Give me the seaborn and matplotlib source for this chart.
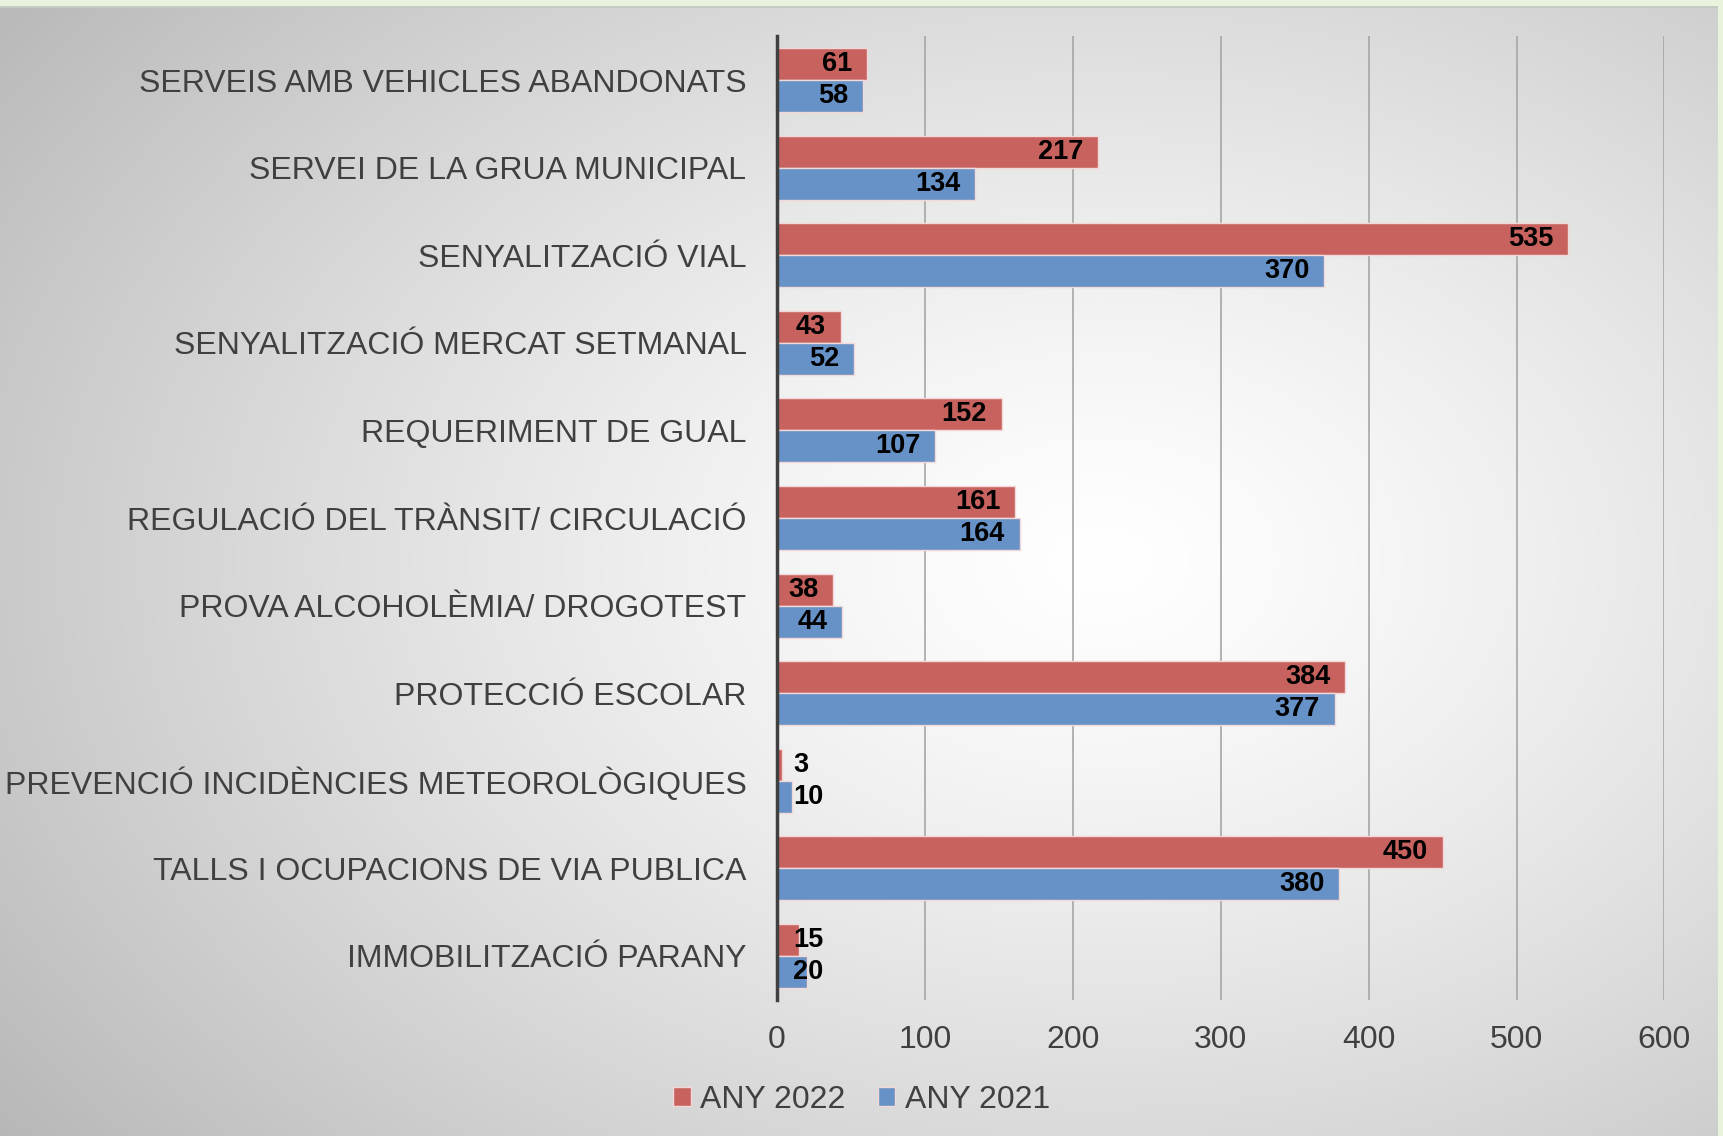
import numpy as np
import pandas as pd
import seaborn as sns
import matplotlib
import matplotlib.pyplot as plt
matplotlib.use('Agg')

sns.set_style('white')
plt.rcParams['font.family'] = ['Liberation Sans', 'DejaVu Sans']

# dades del gràfic (de dalt a baix)
categories = [
    'SERVEIS AMB VEHICLES ABANDONATS',
    'SERVEI DE LA GRUA MUNICIPAL',
    'SENYALITZACIÓ VIAL',
    'SENYALITZACIÓ MERCAT SETMANAL',
    'REQUERIMENT DE GUAL',
    'REGULACIÓ DEL TRÀNSIT/ CIRCULACIÓ',
    'PROVA ALCOHOLÈMIA/ DROGOTEST',
    'PROTECCIÓ ESCOLAR',
    'PREVENCIÓ INCIDÈNCIES METEOROLÒGIQUES',
    'TALLS I OCUPACIONS DE VIA PUBLICA',
    'IMMOBILITZACIÓ PARANY',
]
any_2022 = [61, 217, 535, 43, 152, 161, 38, 384, 3, 450, 15]
any_2021 = [58, 134, 370, 52, 107, 164, 44, 377, 10, 380, 20]
series = ['ANY 2022', 'ANY 2021']
colors = ['#C8625F', '#6692C7']
x_ticks = [0, 100, 200, 300, 400, 500, 600]

df = pd.DataFrame({
    'categoria': categories * 2,
    'valor': any_2022 + any_2021,
    'any': [series[0]] * len(categories) + [series[1]] * len(categories),
})

fig = plt.figure(figsize=(17.23, 11.36), dpi=100)

# fons amb degradat radial
bg = fig.add_axes([0, 0, 1, 1], zorder=-10)
yy, xx = np.mgrid[0:1136, 0:1723]
dist = np.sqrt(((xx - 1100) / 1300) ** 2 + ((yy - 560) / 900) ** 2)
shade = 1 - 0.26 * np.clip(dist, 0, 1.2) ** 1.3
img = np.dstack([shade, shade, shade])
img[0:6, :, :] = [0.91, 0.95, 0.87]
img[6:8, :, :] = [0.78, 0.80, 0.77]
img[:, 1718:, :] = [0.91, 0.95, 0.87]
bg.imshow(img, aspect='auto', extent=[0, 1, 0, 1])
bg.axis('off')

ax = fig.add_axes([0.451, 0.120, 0.515, 0.848])
ax.patch.set_alpha(0)

sns.barplot(data=df, y='categoria', x='valor', hue='any', orient='h',
            palette=colors, saturation=1, width=0.73, gap=0,
            edgecolor='#F2D8D6', linewidth=1, ax=ax, zorder=3)

# etiquetes de valor
for cont, vals in zip(ax.containers, [any_2022, any_2021]):
    for bar, v in zip(cont, vals):
        yc = bar.get_y() + bar.get_height() / 2
        if v > 30:
            ax.text(v - 10, yc, str(v), ha='right', va='center',
                    fontsize=19.5, fontweight='bold', color='black', zorder=5)
        else:
            ax.text(11, yc, str(v), ha='left', va='center',
                    fontsize=19.5, fontweight='bold', color='black', zorder=5)

ax.set_xlim(0, 600)
ax.set_xticks(x_ticks)
ax.set_xticklabels([str(t) for t in x_ticks])
ax.set_xlabel('')
ax.set_ylabel('')
ax.tick_params(axis='x', labelsize=23, colors='#404040', length=0, pad=18)
ax.tick_params(axis='y', labelsize=23, colors='#404040', length=0, pad=22)
ax.grid(axis='x', color='#A6A6A6', linewidth=1.2, zorder=0)
ax.set_axisbelow(True)
for s in ['top', 'right', 'bottom']:
    ax.spines[s].set_visible(False)
ax.spines['left'].set_color('#404040')
ax.spines['left'].set_linewidth(2.5)
ax.spines['left'].set_zorder(6)

leg = ax.legend(loc='center', bbox_to_anchor=(0.5, 0.032),
                bbox_transform=fig.transFigure, ncol=2, frameon=False,
                fontsize=23, handlelength=0.55, handleheight=0.55,
                handletextpad=0.3, columnspacing=1.0)
for t in leg.get_texts():
    t.set_color('#404040')

fig.savefig('out.png', dpi=100)
plt.close()
